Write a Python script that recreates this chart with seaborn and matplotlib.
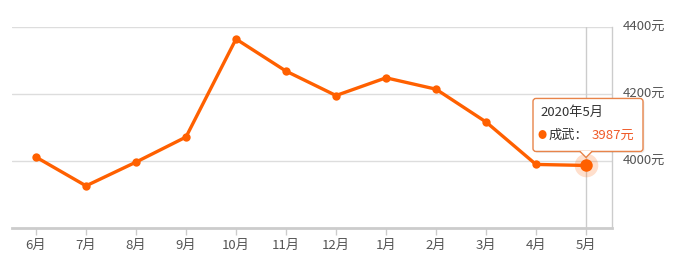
import matplotlib
matplotlib.use("Agg")
import matplotlib.pyplot as plt
import seaborn as sns
import pandas as pd
from matplotlib.patches import FancyBboxPatch, Polygon
import matplotlib.transforms as mtransforms

months = ["6月", "7月", "8月", "9月", "10月", "11月", "12月", "1月", "2月", "3月", "4月", "5月"]
prices = [4012, 3926, 3997, 4072, 4365, 4269, 4196, 4249, 4215, 4117, 3990, 3987]
y_ticks = [4000, 4200, 4400]
y_tick_labels = ["4000元", "4200元", "4400元"]
tooltip_title = "2020年5月"
series_name = "成武"

df = pd.DataFrame({"x": range(len(months)), "month": months, "price": prices})

sns.set_style("white")
plt.rcParams['font.family'] = ['Noto Sans CJK SC', 'DejaVu Sans']

fig = plt.figure(figsize=(6.83, 2.66), dpi=100)
ax = fig.add_axes([12/683, 38/266, 600/683, 200.7/266])

orange = "#ff6000"
sns.lineplot(data=df, x="x", y="price", ax=ax, color=orange, linewidth=2.4,
             marker="o", markersize=6, markeredgewidth=0, zorder=3)

ax.set_xlim(-0.48, 11.52)
ax.set_ylim(3800, 4400)

for v in y_ticks:
    ax.axhline(v, color="#dddddd", linewidth=1, zorder=0)

for s in ["top", "left"]:
    ax.spines[s].set_visible(False)
ax.spines["right"].set_visible(True)
ax.spines["right"].set_color("#cccccc")
ax.spines["right"].set_linewidth(1)
ax.spines["bottom"].set_color("#cccccc")
ax.spines["bottom"].set_linewidth(2)

ax.set_xticks(df["x"])
ax.set_xticklabels(months)
ax.tick_params(axis="x", length=5, width=1, color="#cccccc", labelsize=9.5, labelcolor="#555555", pad=3, bottom=True)
ax.yaxis.tick_right()
ax.set_yticks(y_ticks)
ax.set_yticklabels(y_tick_labels)
ax.tick_params(axis="y", length=0, labelsize=9.5, labelcolor="#555555", pad=8, right=True)
shift = mtransforms.ScaledTranslation(0, 1/100, fig.dpi_scale_trans)
for lab in ax.get_yticklabels():
    lab.set_verticalalignment("center")
    lab.set_transform(lab.get_transform() + shift)
ax.set_xlabel("")
ax.set_ylabel("")

last_x = df["x"].iloc[-1]
last_y = df["price"].iloc[-1]
ax.axvline(last_x, color="#cccccc", linewidth=1, zorder=1)
ax.plot([last_x], [last_y], "o", color=orange, alpha=0.2, markersize=17, markeredgewidth=0, zorder=4)
ax.plot([last_x], [last_y], "o", color=orange, markersize=9, markeredgewidth=0, zorder=5)

px, py = ax.transData.transform((last_x, last_y))
bx0, bx1 = px - 53, px + 57
by0, by1 = py + 14, py + 67
edge = "#e8844a"
shadow = FancyBboxPatch((bx0 + 1.5, by0 - 1.5), bx1 - bx0, by1 - by0,
                        boxstyle="round,pad=0,rounding_size=3",
                        transform=None, facecolor="#000000", alpha=0.08,
                        edgecolor="none", zorder=9)
fig.patches.append(shadow)
box = FancyBboxPatch((bx0, by0), bx1 - bx0, by1 - by0,
                     boxstyle="round,pad=0,rounding_size=3",
                     transform=None, facecolor="white", edgecolor=edge,
                     linewidth=1, zorder=10)
fig.patches.append(box)
tri = Polygon([(px - 6, by0 + 0.6), (px + 6, by0 + 0.6), (px, by0 - 6)], closed=True,
              transform=None, facecolor="white", edgecolor="none", zorder=11)
fig.patches.append(tri)
fig.add_artist(plt.Line2D([px - 6, px, px + 6], [by0, by0 - 6, by0], transform=None,
                          color=edge, linewidth=1, zorder=12))

fig.text(bx0 + 7, by1 - 14, tooltip_title, transform=None, fontsize=9.5, color="#333333",
         va="center", ha="left", zorder=13)
fig.text(bx0 + 9, by1 - 37, "●", transform=None, fontsize=6.5, color=orange,
         va="center", ha="center", zorder=13)
fig.text(bx0 + 16, by1 - 37, series_name + "：", transform=None, fontsize=9.5, color="#333333",
         va="center", ha="left", zorder=13)
fig.text(bx0 + 59, by1 - 37, f"{last_y}元", transform=None, fontsize=9.5, color="#f05a28",
         va="center", ha="left", zorder=13)

fig.savefig("out.png", dpi=100)
